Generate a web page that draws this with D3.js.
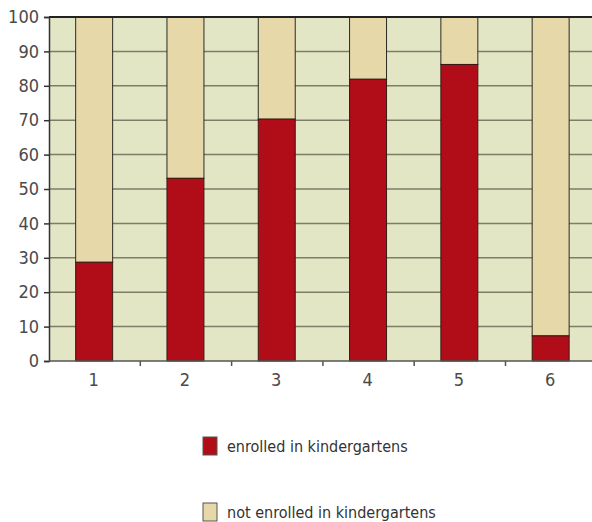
<!DOCTYPE html>
<html>
<head>
<meta charset="utf-8">
<script src="https://cdn.jsdelivr.net/npm/d3@7"></script>
<style>
  body { margin: 0; background: #fff; }
  text { font-family: "Liberation Sans Narrow", "DejaVu Sans Condensed", "Roboto", sans-serif; }
</style>
</head>
<body>
<svg id="chart" width="592" height="522"></svg>
<script>
// data
const categories = ["1", "2", "3", "4", "5", "6"];
const enrolled = [28.7, 53.1, 70.3, 81.9, 86.2, 7.3];
const notEnrolled = enrolled.map(v => 100 - v);
const yTicks = [0, 10, 20, 30, 40, 50, 60, 70, 80, 90, 100];
const seriesNames = ["enrolled in kindergartens", "not enrolled in kindergartens"];
const seriesColors = ["#b00d18", "#e7d8a9"];

const svg = d3.select("#chart");

const plotLeft = 49, plotTop = 17, plotBottom = 361;
const band = 91.3;

const x = d3.scaleBand()
    .domain(categories)
    .range([plotLeft, plotLeft + band * categories.length])
    .paddingInner(0)
    .paddingOuter(0);

const y = d3.scaleLinear()
    .domain([0, 100])
    .range([plotBottom, plotTop]);

const plotRight = x.range()[1];

// plot background
svg.append("rect")
    .attr("x", plotLeft)
    .attr("y", plotTop)
    .attr("width", plotRight - plotLeft)
    .attr("height", plotBottom - plotTop)
    .attr("fill", "#e2e6c5");

// horizontal gridlines
svg.selectAll("line.grid")
    .data(yTicks.filter(d => d > 0 && d < 100))
    .enter()
    .append("line")
    .attr("class", "grid")
    .attr("x1", plotLeft)
    .attr("x2", plotRight)
    .attr("y1", d => y(d))
    .attr("y2", d => y(d))
    .attr("stroke", "#7d7d68")
    .attr("stroke-width", 1.5);

// stacked bars
const barW = band * 0.405;
const stacked = categories.map((c, i) => ({ cat: c, a: enrolled[i], b: notEnrolled[i] }));

svg.selectAll("rect.upper")
    .data(stacked)
    .enter()
    .append("rect")
    .attr("class", "upper")
    .attr("x", d => x(d.cat) + x.bandwidth() / 2 - barW / 2 - 0.5)
    .attr("y", d => y(d.a + d.b))
    .attr("width", barW)
    .attr("height", d => y(d.a) - y(d.a + d.b))
    .attr("fill", seriesColors[1])
    .attr("stroke", "#2a2a22")
    .attr("stroke-width", 1);

svg.selectAll("rect.lower")
    .data(stacked)
    .enter()
    .append("rect")
    .attr("class", "lower")
    .attr("x", d => x(d.cat) + x.bandwidth() / 2 - barW / 2 - 0.5)
    .attr("y", d => y(d.a))
    .attr("width", barW)
    .attr("height", d => plotBottom - y(d.a))
    .attr("fill", seriesColors[0])
    .attr("stroke", "#3a1a14")
    .attr("stroke-width", 1);

// top border and left / bottom axes
svg.append("line")
    .attr("x1", plotLeft).attr("x2", plotRight)
    .attr("y1", plotTop).attr("y2", plotTop)
    .attr("stroke", "#222").attr("stroke-width", 2);

const yAxis = d3.axisLeft(y).tickValues(yTicks).tickSize(5).tickPadding(5);
const gy = svg.append("g")
    .attr("transform", `translate(${plotLeft},0)`)
    .call(yAxis);
gy.select(".domain").attr("stroke", "#333").attr("stroke-width", 1.5);
gy.selectAll(".tick line").attr("stroke", "#333").attr("stroke-width", 1.5);
gy.selectAll(".tick text")
    .attr("fill", "#4a4a4a")
    .style("font-size", "18px");

// x axis: labels centered, tick marks between categories
const gx = svg.append("g")
    .attr("transform", `translate(0,${plotBottom})`);
gx.append("line")
    .attr("x1", plotLeft).attr("x2", plotRight)
    .attr("stroke", "#555").attr("stroke-width", 1.5);
gx.selectAll("line.tk")
    .data(categories.slice(1))
    .enter()
    .append("line")
    .attr("class", "tk")
    .attr("x1", d => x(d)).attr("x2", d => x(d))
    .attr("y1", 0).attr("y2", 5)
    .attr("stroke", "#555").attr("stroke-width", 1.5);
gx.selectAll("text")
    .data(categories)
    .enter()
    .append("text")
    .attr("x", d => x(d) + x.bandwidth() / 2 - 1)
    .attr("y", 25)
    .attr("text-anchor", "middle")
    .attr("fill", "#4a4a4a")
    .style("font-size", "18px")
    .text(d => d);

// legend
const legend = svg.selectAll("g.legend")
    .data(seriesNames)
    .enter()
    .append("g")
    .attr("class", "legend")
    .attr("transform", (d, i) => `translate(203,${437 + i * 66})`);

legend.append("rect")
    .attr("width", 14)
    .attr("height", 18)
    .attr("fill", (d, i) => seriesColors[i])
    .attr("stroke", "#555")
    .attr("stroke-width", 1);

legend.append("text")
    .attr("x", 24)
    .attr("y", 15)
    .attr("fill", "#333")
    .style("font-size", "16px")
    .text(d => d);
</script>
</body>
</html>
